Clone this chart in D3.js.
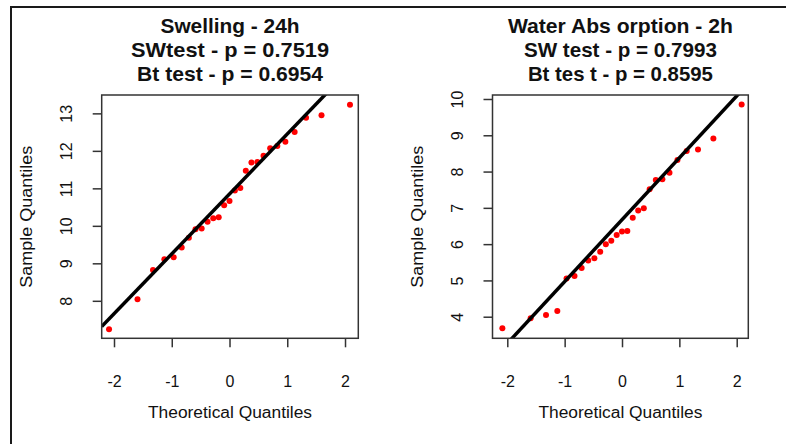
<!DOCTYPE html>
<html lang="en">
<head>
	<meta charset="UTF-8">
	<title>QQ plots</title>
	<script src="https://cdn.jsdelivr.net/npm/d3@7"></script>
	<style>
		body{
			margin:0;
			background:#fff;
		}
		svg{
			display:block;
			font-family:"Liberation Sans", Arial, sans-serif;
		}
		.frame{
			stroke:#1a1a1a;
			stroke-width:2;
			fill:none;
		}
		.box{
			fill:none;
			stroke:#333;
			stroke-width:1.5;
		}
		.axis .domain{
			display:none;
		}
		.axis line{
			stroke:#333;
			stroke-width:1.5;
		}
		.axis text{
			font-size:16px;
			fill:#111;
		}
		.title{
			font-weight:bold;
			font-size:21px;
			fill:#111;
		}
		.lab{
			font-size:16px;
			fill:#111;
		}
		.fit{
			stroke:#000;
			stroke-width:3.5;
			fill:none;
		}
		.pt{
			fill:#ff0000;
		}
	</style>
</head>
<body>
	<svg width="786" height="444"></svg>
	<script>
		// theoretical normal quantiles (n = 27), as on the x axes
		var theo = [-2.086,-1.593,-1.325,-1.128,-0.967,-0.828,-0.704,-0.589,-0.482,-0.380,-0.282,-0.187,-0.093,0,
			0.093,0.187,0.282,0.380,0.482,0.589,0.704,0.828,0.967,1.128,1.325,1.593,2.086];

		// sorted sample values
		var swelling = [7.24,8.04,8.82,9.11,9.16,9.42,9.68,9.91,9.93,10.11,10.20,10.23,10.55,10.66,
			10.94,11.01,11.47,11.69,11.70,11.87,12.07,12.13,12.24,12.50,12.88,12.95,13.23];
		var absorption = [3.68,3.96,4.05,4.16,5.05,5.12,5.34,5.55,5.61,5.79,6.00,6.09,6.25,6.35,
			6.36,6.73,6.93,6.99,7.51,7.77,7.79,7.97,8.32,8.57,8.61,8.91,9.85];

		// reference lines: [intercept, slope]
		var swellLine = [10.85, 1.599];
		var absLine = [6.673, 1.705];

		var xTicks = [-2,-1,0,1,2];
		var swellTicks = [8,9,10,11,12,13];
		var absTicks = [4,5,6,7,8,9,10];

		var swellTitle = ["Swelling - 24h","SWtest - p = 0.7519","Bt test - p = 0.6954"];
		var absTitle = ["Water Abs orption - 2h","SW test - p = 0.7993","Bt tes t - p = 0.8595"];

		(function(){
			var svg = d3.select("svg");

			// outer frame (left and top edges only)
			svg.append("path")
				.attr("class","frame")
				.attr("d","M11,444V7H786");

			var panels = [
				{ys:swelling, fit:swellLine, yt:swellTicks, title:swellTitle, widths:[139,198,186],
					left:101.7, right:358.3, xd:[-2.213,2.23], yd:[7.0,13.49]},
				{ys:absorption, fit:absLine, yt:absTicks, title:absTitle, widths:[225,193,185],
					left:492.5, right:748.3, xd:[-2.258,2.202], yd:[3.405,10.11]}
			];
			var pTop = 95, pBottom = 338.3;
			var fmt = d => String(d);

			panels.forEach(function(p,i){
				var x = d3.scaleLinear().domain(p.xd).range([p.left,p.right]);
				var y = d3.scaleLinear().domain(p.yd).range([pBottom,pTop]);
				var g = svg.append("g");
				var cx = (p.left+p.right)/2;

				g.append("clipPath").attr("id","clip"+i)
					.append("rect")
					.attr("x",p.left).attr("y",pTop)
					.attr("width",p.right-p.left).attr("height",pBottom-pTop);

				// titles
				g.selectAll("text.title")
					.data(p.title)
					.enter().append("text")
					.attr("class","title")
					.attr("x",cx)
					.attr("y",(d,k)=>33+k*24)
					.attr("text-anchor","middle")
					.attr("textLength",(d,k)=>p.widths[k])
					.attr("lengthAdjust","spacingAndGlyphs")
					.text(d=>d);

				// points
				g.append("g").attr("clip-path","url(#clip"+i+")")
					.selectAll("circle")
					.data(p.ys)
					.enter().append("circle")
					.attr("class","pt")
					.attr("cx",(d,k)=>x(theo[k]))
					.attr("cy",d=>y(d))
					.attr("r",3);

				// qq line
				var xs = x.domain();
				g.append("line")
					.attr("class","fit")
					.attr("clip-path","url(#clip"+i+")")
					.attr("x1",x(xs[0])).attr("y1",y(p.fit[0]+p.fit[1]*xs[0]))
					.attr("x2",x(xs[1])).attr("y2",y(p.fit[0]+p.fit[1]*xs[1]));

				// axes
				var ax = g.append("g")
					.attr("class","axis")
					.attr("transform","translate(0,"+pBottom+")")
					.call(d3.axisBottom(x).tickValues(xTicks).tickSize(9).tickFormat(fmt));
				ax.selectAll("text").attr("dy",null).attr("y",49);

				var ay = g.append("g")
					.attr("class","axis")
					.attr("transform","translate("+p.left+",0)")
					.call(d3.axisLeft(y).tickValues(p.yt).tickSize(9).tickFormat(fmt));
				ay.selectAll("text")
					.attr("x",null).attr("dy",null)
					.attr("text-anchor","middle")
					.attr("dominant-baseline","central")
					.attr("transform","translate(-35,0) rotate(-90)");

				g.append("rect")
					.attr("class","box")
					.attr("x",p.left).attr("y",pTop)
					.attr("width",p.right-p.left).attr("height",pBottom-pTop);

				// axis titles
				g.append("text")
					.attr("class","lab")
					.attr("x",cx).attr("y",418)
					.attr("text-anchor","middle")
					.attr("textLength",164)
					.attr("lengthAdjust","spacingAndGlyphs")
					.text("Theoretical Quantiles");
				g.append("text")
					.attr("class","lab")
					.attr("transform","translate("+(p.left-75)+","+((pTop+pBottom)/2)+") rotate(-90)")
					.attr("text-anchor","middle")
					.attr("dominant-baseline","central")
					.attr("textLength",142)
					.attr("lengthAdjust","spacingAndGlyphs")
					.text("Sample Quantiles");
			});
		})();
	</script>
</body>
</html>
